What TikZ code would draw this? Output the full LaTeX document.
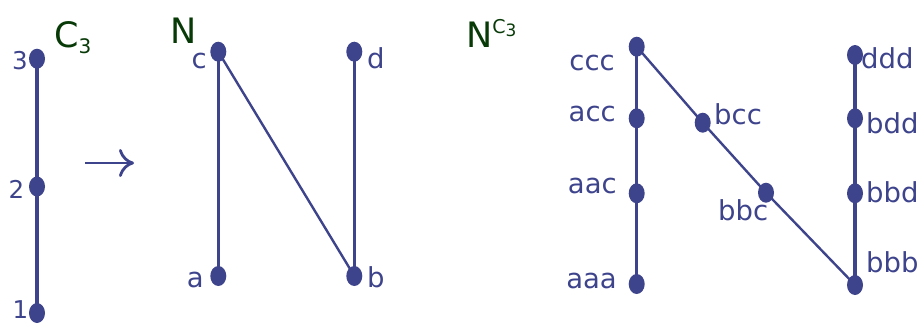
\documentclass[tikz,border=0pt]{standalone}
\usepackage{fontspec}
\setmainfont{DejaVu Sans}
\usetikzlibrary{shapes.geometric,arrows.meta}
\definecolor{pblue}{RGB}{62,68,140}
\definecolor{pgreen}{RGB}{8,58,8}
\begin{document}
\begin{tikzpicture}[x=1pt,y=-1pt,
  dot/.style={ellipse,fill=pblue,draw=none,minimum width=16pt,minimum height=20pt,inner sep=0pt},
  lbl/.style={inner sep=0pt,text=pblue,font=\fontsize{27.5}{27.5}\selectfont},
  num/.style={inner sep=0pt,text=pblue,font=\fontsize{24.5}{24.5}\selectfont},
  ttl/.style={inner sep=0pt,text=pgreen,font=\fontsize{35}{35}\selectfont,anchor=base west},
  edge/.style={draw=pblue,line width=3.3pt},
  diag/.style={draw=pblue,line width=2.4pt}]
\useasboundingbox (0,0) rectangle (921,324);

% C3 chain
\node[dot] (n3) at (37,58.7) {};
\node[dot] (n2) at (37,186.5) {};
\node[dot] (n1) at (37,313) {};
\draw[edge] (n3.center) -- (n2.center) -- (n1.center);
\node[num,anchor=base east] (l3) at (28,69) {3};
\node[num,anchor=base east] (l2) at (24.5,198) {2};
\node[num,anchor=base east] (l1) at (28.5,318) {1};
\node[ttl] (tC3) at (54,47) {C\raisebox{-6pt}{\fontsize{20}{20}\selectfont 3}};

% arrow
\coordinate (arS) at (85,163);
\coordinate (arE) at (134,163);
\draw[draw=pblue,line width=2.8pt,-{Computer Modern Rightarrow[length=15pt,width=28pt]}] (arS) -- (arE);

% N
\node[ttl] (tN) at (170,43) {N};
\node[dot] (c) at (218.3,51.7) {};
\node[dot] (d) at (354.3,51.7) {};
\node[dot] (a) at (218.3,276) {};
\node[dot] (b) at (354.3,276) {};
\draw[edge] (c.center) -- (a.center);
\draw[edge] (d.center) -- (b.center);
\draw[diag] (c.center) -- (b.center);
\node[lbl,anchor=base east] (lc) at (207,68) {c};
\node[lbl,anchor=base west] (ld) at (367,68) {d};
\node[lbl,anchor=base east] (la) at (204,287) {a};
\node[lbl,anchor=base west] (lb) at (367,287) {b};

% N^C3
\node[ttl] (tNC) at (466,47) {N\raisebox{14pt}{\fontsize{19}{19}\selectfont C\raisebox{-3pt}{\fontsize{17}{17}\selectfont 3}}};
\node[dot] (ccc) at (636.7,46.7) {};
\node[dot] (acc) at (636.7,118.3) {};
\node[dot] (aac) at (636.7,193.3) {};
\node[dot] (aaa) at (636.7,284) {};
\node[dot] (ddd) at (855,55) {};
\node[dot] (bdd) at (855,118.3) {};
\node[dot] (bbd) at (855,193.3) {};
\node[dot] (bbb) at (855,285) {};
\node[dot] (bcc) at (702.7,122.7) {};
\node[dot] (bbc) at (766,192.7) {};
\draw[edge] (ccc.center) -- (acc.center) -- (aac.center) -- (aaa.center);
\draw[edge] (ddd.center) -- (bdd.center) -- (bbd.center) -- (bbb.center);
\draw[diag] (ccc.center) -- (bcc.center) -- (bbc.center) -- (bbb.center);
\node[lbl,anchor=base east] (lccc) at (615,70) {ccc};
\node[lbl,anchor=base east] (lacc) at (616,121) {acc};
\node[lbl,anchor=base east] (laac) at (617,193) {aac};
\node[lbl,anchor=base east] (laaa) at (617,288) {aaa};
\node[lbl,anchor=base west] (lddd) at (861,68) {ddd};
\node[lbl,anchor=base west] (lbdd) at (866,133) {bdd};
\node[lbl,anchor=base west] (lbbd) at (866,202) {bbd};
\node[lbl,anchor=base west] (lbbb) at (866,272) {bbb};
\node[lbl,anchor=base west] (lbcc) at (714,124) {bcc};
\node[lbl,anchor=base west] (lbbc) at (718,220) {bbc};
\end{tikzpicture}
\end{document}
